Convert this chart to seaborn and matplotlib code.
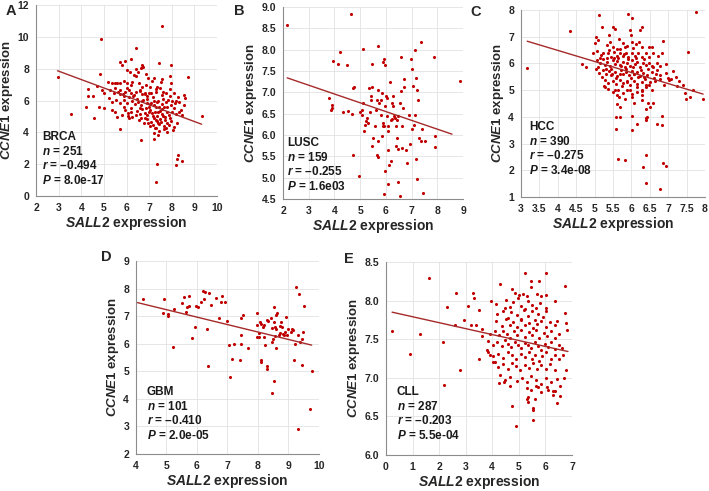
import matplotlib
matplotlib.use('Agg')
import matplotlib.pyplot as plt
import seaborn as sns

# ------------------------------------------------------------------------------
# data (SALL2 expression, CCNE1 expression)
# ------------------------------------------------------------------------------
brca = [(2.95, 7.49), (3.56, 5.17), (4.28, 6.7), (4.28, 6.28), (4.5, 6.28), (4.2, 5.6), (4.55, 4.87),
        (4.7, 6.9), (4.8, 5.6), (4.82, 7.65), (4.88, 9.85), (7.55, 10.65), (7.36, 2.03), (7.3, 0.88),
        (8.19, 1.95), (8.25, 2.3), (8.28, 2.55), (8.45, 2.2),
        (6.44, 9.29), (5.73, 8.45), (5.95, 8.51), (5.81, 8.24), (6.21, 8.59), (6.7, 8.24), (6.74, 8.13),
        (6.65, 8.03), (7.44, 8.38), (7.98, 8.2), (6.03, 7.92), (6.15, 7.76), (6.4, 7.96), (6.5, 7.82),
        (6.33, 7.61), (6.44, 7.55), (6.84, 7.65), (6.95, 7.4), (7.21, 7.4), (7.14, 7.25), (7.51, 7.19),
        (7.55, 7.34), (7.92, 7.55), (7.95, 7.08), (8.73, 7.5),
        (5.17, 7.19), (5.36, 7.09), (5.47, 7.13), (5.58, 7.09), (5.73, 7.13), (5.88, 7.25), (6.0, 7.09),
        (6.25, 7.19), (6.18, 6.98), (6.55, 7.13), (6.7, 6.87), (6.84, 6.98), (7.04, 6.83), (7.33, 6.87),
        (7.48, 6.77), (7.91, 6.73),
        (4.92, 6.67), (5.02, 6.5), (5.29, 6.67), (5.44, 6.5), (5.61, 6.56), (5.73, 6.67), (5.85, 6.41),
        (5.95, 6.56), (6.1, 6.67), (6.21, 6.46), (6.33, 6.35), (6.44, 6.56), (6.59, 6.67), (6.7, 6.39),
        (6.81, 6.5), (6.92, 6.29), (7.07, 6.46), (7.18, 6.25), (7.29, 6.56), (7.58, 6.35), (7.73, 6.46),
        (8.1, 6.46), (8.28, 6.2), (8.55, 6.35), (8.58, 6.14),
        (5.21, 6.14), (5.36, 5.93), (5.55, 6.04), (5.73, 5.87), (5.91, 6.04), (6.03, 5.83), (6.25, 5.99),
        (6.37, 5.78), (6.5, 5.93), (6.62, 5.72), (6.74, 6.04), (6.89, 5.83), (6.99, 5.62), (7.1, 5.87),
        (7.21, 5.72), (7.33, 5.93), (7.44, 5.62), (7.55, 5.78), (7.73, 5.93), (7.81, 5.62), (7.95, 5.72),
        (8.13, 5.83), (8.32, 5.93), (8.52, 5.72),
        (4.99, 5.51), (5.36, 5.41), (5.51, 5.3), (5.95, 5.41), (6.06, 5.2), (6.18, 5.51), (6.47, 5.37),
        (6.59, 5.16), (6.7, 5.45), (6.8, 5.24), (6.92, 5.09), (7.04, 5.41), (7.14, 5.2), (7.24, 5.3),
        (7.36, 5.03), (7.48, 5.37), (7.58, 5.16), (7.69, 4.99), (7.78, 5.3), (7.88, 5.09), (8.03, 5.3),
        (8.18, 5.16), (8.4, 5.41), (8.47, 5.09),
        (5.58, 4.99), (6.1, 4.88), (6.25, 4.95), (6.55, 4.78), (6.65, 4.88), (6.77, 4.61), (6.92, 4.82),
        (7.07, 4.67), (7.18, 4.46), (7.29, 4.78), (7.39, 4.57), (7.51, 4.67), (7.66, 4.4), (7.78, 4.61),
        (7.88, 4.46), (7.98, 4.71), (8.1, 4.32), (8.25, 4.57),
        (7.29, 4.25), (7.44, 4.11), (7.66, 4.19), (7.81, 4.04), (7.21, 3.94), (7.39, 3.83), (5.73, 4.19),
        (6.65, 3.52), (7.21, 3.56), (9.32, 5.03),
        (6.6, 5.5), (6.85, 5.55), (7.0, 5.3), (7.15, 5.05), (7.3, 5.6), (7.4, 5.25), (7.55, 5.45),
        (7.65, 5.6), (7.2, 4.9), (7.35, 4.7), (7.5, 4.85), (7.6, 5.0), (7.7, 4.8), (7.05, 5.8),
        (6.9, 6.1), (7.2, 6.0), (7.4, 5.95), (7.6, 6.1), (7.85, 6.05), (8.0, 5.95), (6.7, 5.95),
        (6.45, 6.1), (6.3, 6.3), (6.1, 6.2), (5.9, 6.3), (5.7, 6.4), (5.5, 6.8), (6.0, 6.8),
        (6.6, 6.6), (6.8, 6.4), (7.0, 6.5), (7.3, 6.7), (7.6, 6.55), (7.9, 6.3), (8.2, 6.0),
        (8.1, 5.5), (8.3, 5.3), (7.9, 4.9), (7.45, 4.5), (7.05, 4.4), (6.8, 4.9), (6.4, 5.1),
        (6.2, 5.3), (5.9, 5.6), (6.05, 5.05), (5.8, 5.1), (7.75, 4.25), (8.05, 4.15), (7.25, 4.3),
        (6.95, 4.6)]

lusc = [(2.16, 8.59), (4.64, 8.84), (4.21, 7.94), (3.95, 7.74), (4.15, 7.66), (4.47, 7.63), (5.12, 8.02),
        (5.47, 7.66), (5.93, 7.77), (5.9, 7.7), (5.96, 7.65), (5.71, 8.08), (6.59, 7.83), (6.97, 7.78),
        (7.14, 8.0), (7.36, 8.18), (7.88, 7.83), (8.9, 7.26),
        (3.79, 6.87), (3.89, 6.71), (3.92, 6.63), (3.85, 6.59), (4.34, 6.53), (4.54, 6.57), (4.69, 6.5),
        (4.73, 7.1), (4.77, 7.13), (4.73, 5.54), (4.95, 5.03), (4.99, 6.53), (5.06, 6.48), (5.1, 6.75),
        (5.08, 6.58), (5.19, 6.24), (5.21, 6.34), (5.16, 6.1), (5.28, 6.4), (5.32, 6.28), (5.35, 7.1),
        (5.38, 6.55), (5.41, 6.92), (5.44, 6.83), (5.47, 7.13), (5.51, 5.93), (5.45, 5.75), (5.58, 6.2),
        (5.6, 6.59), (5.64, 6.83), (5.64, 5.54), (5.71, 5.48), (5.68, 5.85), (5.71, 7.06), (5.75, 6.75),
        (5.8, 6.83), (5.81, 6.48), (5.84, 6.98), (5.84, 5.97), (5.87, 6.2), (5.9, 6.27), (5.93, 6.22),
        (5.97, 6.67), (6.0, 6.91), (6.03, 6.87), (5.97, 5.15), (5.93, 4.62), (6.03, 6.44), (6.07, 6.2),
        (6.1, 6.09), (6.1, 5.66), (6.14, 5.3), (6.19, 5.38), (6.1, 4.84), (6.16, 7.24), (6.23, 6.75),
        (6.27, 6.67), (6.2, 6.36), (6.25, 6.38), (6.29, 6.91), (6.33, 6.44), (6.36, 6.4), (6.38, 6.2),
        (6.42, 6.36), (6.38, 5.75), (6.46, 5.68), (6.45, 5.93), (6.49, 6.44), (6.46, 4.91), (6.53, 4.56),
        (6.55, 6.75), (6.58, 7.02), (6.62, 5.7), (6.64, 6.2), (6.68, 6.63), (6.71, 7.13), (6.72, 7.32),
        (6.77, 5.66), (6.81, 5.34), (6.9, 6.48), (6.94, 5.8), (7.0, 6.13), (7.0, 7.55), (7.07, 7.16),
        (7.14, 6.48), (7.1, 6.24), (7.18, 7.34), (7.2, 7.06), (7.24, 6.83), (7.18, 5.44), (7.22, 4.98),
        (7.29, 5.93), (7.36, 5.85), (7.4, 6.14), (7.46, 4.64), (7.53, 5.85), (7.89, 5.97), (7.92, 5.73)]

hcc = [(3.17, 5.81), (4.33, 7.22), (4.65, 5.98), (4.78, 5.88), (5.13, 7.81), (5.92, 7.85), (6.03, 7.69),
       (7.77, 7.94), (5.19, 7.38), (5.51, 7.35), (5.55, 7.28), (5.4, 7.06), (5.67, 6.9), (5.96, 7.25),
       (5.98, 7.06), (6.28, 7.38), (6.23, 7.25), (5.04, 7.0), (5.1, 6.88), (5.01, 6.78), (5.33, 6.69),
       (5.42, 6.81), (5.51, 6.63), (5.78, 6.75), (5.87, 6.65), (5.69, 6.53), (6.01, 6.81), (6.13, 6.73),
       (6.22, 6.81), (6.49, 6.63), (6.87, 6.85),
       (4.97, 6.4), (5.07, 6.48), (5.17, 6.31), (5.24, 6.4), (5.37, 6.38), (5.44, 6.25), (5.53, 6.44),
       (5.6, 6.28), (5.69, 6.38), (5.78, 6.28), (5.85, 6.4), (5.92, 6.25), (6.01, 6.38), (6.1, 6.28),
       (6.19, 6.4), (6.28, 6.25), (6.4, 6.4), (6.49, 6.25), (6.6, 6.38), (6.73, 6.28), (6.82, 6.38),
       (5.06, 6.13), (5.15, 6.0), (5.22, 6.15), (5.28, 5.94), (5.35, 6.06), (5.42, 5.9), (5.49, 6.13),
       (5.55, 5.98), (5.62, 6.1), (5.69, 5.94), (5.76, 6.06), (5.83, 5.88), (5.89, 6.03), (5.96, 5.9),
       (6.03, 6.13), (6.1, 5.98), (6.16, 6.06), (6.23, 5.88), (6.31, 6.03), (6.4, 5.94), (6.49, 6.03),
       (6.58, 5.88), (6.69, 6.0), (6.78, 5.9), (6.94, 5.98),
       (5.04, 5.78), (5.13, 5.65), (5.22, 5.75), (5.31, 5.6), (5.4, 5.73), (5.46, 5.56), (5.55, 5.69),
       (5.62, 5.53), (5.71, 5.75), (5.78, 5.6), (5.85, 5.69), (5.94, 5.56), (6.01, 5.73), (6.07, 5.6),
       (6.16, 5.69), (6.23, 5.53), (6.32, 5.65), (6.43, 5.56), (6.55, 5.69), (6.67, 5.6), (6.78, 5.56),
       (6.94, 5.65),
       (5.28, 5.38), (5.37, 5.28), (5.49, 5.35), (5.58, 5.23), (5.69, 5.38), (5.78, 5.25), (5.87, 5.35),
       (5.96, 5.19), (6.07, 5.35), (6.16, 5.23), (6.28, 5.31), (6.4, 5.19), (6.5, 5.31), (6.64, 5.35),
       (6.78, 5.4),
       (5.37, 5.03), (5.51, 4.94), (5.64, 5.0), (5.76, 4.88), (5.87, 5.0), (6.01, 4.85), (6.14, 4.94),
       (6.28, 4.81), (5.28, 5.1), (5.67, 4.73), (6.01, 4.73), (6.28, 4.63), (6.41, 5.13), (6.55, 5.0),
       (5.6, 4.48), (5.69, 4.38), (6.46, 4.53), (6.5, 4.38), (6.41, 4.31), (6.01, 4.03), (6.4, 3.94),
       (6.43, 4.0), (5.69, 4.0),
       (6.55, 6.63), (7.03, 5.38), (7.09, 5.41), (7.23, 5.15), (7.41, 5.21), (7.46, 4.9), (7.48, 4.65),
       (7.59, 4.75), (7.67, 5.0), (7.55, 6.44), (7.95, 4.65),
       (5.58, 3.98), (5.57, 3.54), (5.64, 2.44), (5.84, 2.4), (6.03, 3.5), (6.14, 3.75), (6.39, 3.88),
       (6.41, 2.56), (6.32, 2.13), (6.39, 1.53), (6.69, 3.75), (6.82, 4.03), (6.82, 3.69), (6.78, 1.31),
       (6.85, 2.28), (6.94, 2.16), (6.58, 4.5),
       (5.45, 5.8), (5.52, 6.2), (5.58, 5.45), (5.65, 6.22), (5.72, 5.9), (5.8, 6.35), (5.86, 5.8),
       (5.92, 6.15), (5.98, 5.45), (6.05, 5.85), (6.12, 6.2), (6.18, 5.5), (6.25, 5.75), (6.33, 6.15),
       (6.38, 5.4), (6.45, 5.8), (5.3, 5.8), (5.35, 6.2), (5.2, 5.5), (5.1, 5.85), (5.55, 5.0),
       (5.75, 5.15), (5.95, 5.0), (6.15, 5.1), (6.35, 5.5), (6.55, 5.9), (6.62, 5.45), (6.7, 5.75),
       (6.88, 5.2), (7.0, 5.45), (7.12, 5.7), (7.2, 5.5), (7.3, 5.35), (5.6, 6.55), (5.82, 6.6),
       (6.05, 6.58), (6.3, 6.6), (5.4, 6.5), (5.25, 5.15), (5.15, 6.2), (5.48, 5.62), (5.68, 5.62),
       (5.88, 5.3), (6.08, 5.62), (6.28, 5.0), (6.48, 5.2), (5.62, 4.8), (5.82, 4.65), (6.08, 4.5),
       (6.3, 4.95)]

gbm = [(4.22, 7.61), (4.91, 7.61), (4.88, 7.1), (5.04, 7.02), (5.06, 7.07), (5.24, 7.26), (5.23, 5.89),
       (5.51, 7.46), (5.57, 7.71), (5.64, 7.14), (5.68, 7.34), (5.75, 7.37), (5.75, 7.74), (5.84, 6.22),
       (5.94, 6.62), (5.97, 7.37), (6.03, 7.33), (6.14, 7.52), (6.19, 7.91), (6.25, 7.89), (6.23, 7.62),
       (6.41, 7.85), (6.45, 7.4), (6.33, 6.52), (6.36, 5.2), (6.63, 7.67), (6.71, 6.94), (6.8, 7.5),
       (6.82, 7.73), (6.93, 7.52), (7.0, 6.82), (7.05, 5.95), (7.07, 4.78), (7.2, 6.0), (7.16, 5.43),
       (7.4, 5.4), (7.44, 6.0), (7.44, 6.32), (7.45, 6.94), (7.51, 7.04), (7.67, 5.83), (7.98, 7.13),
       (7.98, 6.24), (8.04, 6.24), (8.06, 6.78), (8.11, 6.72), (8.09, 5.4), (8.11, 5.32), (8.17, 6.6),
       (8.2, 6.68), (8.19, 6.24), (8.28, 5.2), (8.28, 5.1), (8.24, 5.95), (8.28, 6.86), (8.33, 6.82),
       (8.42, 6.94), (8.45, 6.56), (8.5, 6.17), (8.46, 6.07), (8.45, 4.22), (8.52, 7.32), (8.52, 6.8),
       (8.55, 6.62), (8.58, 6.53), (8.57, 6.28), (8.54, 4.66), (8.6, 7.04), (8.63, 7.1), (8.6, 5.86),
       (8.69, 6.32), (8.73, 6.4), (8.77, 6.78), (8.82, 6.34), (8.86, 6.3), (8.9, 6.44), (8.96, 6.32),
       (8.93, 6.98), (9.0, 6.53), (9.07, 6.44), (9.1, 6.53), (9.15, 6.5), (9.18, 5.41), (9.23, 6.0),
       (9.26, 8.07), (9.32, 6.32), (9.34, 7.82), (9.37, 6.07), (9.45, 6.17), (9.45, 5.23), (9.32, 2.9),
       (9.52, 7.37), (9.48, 6.42), (9.7, 3.63), (9.76, 5.01), (8.72, 6.65), (8.79, 6.6), (7.97, 6.68),
       (8.04, 6.38)]

cll = [(0.23, 7.61), (0.92, 7.31), (1.27, 7.57), (1.63, 8.29), (2.13, 7.47), (2.17, 6.91), (2.28, 7.92),
       (2.61, 7.69), (2.65, 8.1), (2.8, 7.1), (2.95, 7.75), (3.09, 7.93), (3.2, 7.68), (3.26, 8.1),
       (3.32, 8.03), (3.4, 7.69), (3.49, 7.88), (3.49, 7.25), (3.61, 7.54), (3.8, 7.36), (3.93, 7.29),
       (4.12, 7.21), (4.24, 6.93), (4.43, 6.95),
       (4.28, 8.22), (5.45, 8.25), (5.44, 8.17), (5.75, 8.25), (6.73, 8.19), (5.24, 8.36), (6.04, 8.36),
       (4.76, 8.15), (4.85, 8.1), (5.01, 8.07), (5.16, 8.09), (5.29, 8.06), (5.69, 8.09), (5.85, 8.06),
       (6.01, 8.07),
       (3.97, 7.99), (4.16, 7.95), (4.47, 7.9), (4.53, 8.01), (4.66, 7.92), (4.78, 7.98), (4.97, 8.03),
       (5.1, 7.93), (5.22, 7.89), (5.35, 8.0), (5.51, 7.94), (5.66, 7.9), (5.79, 7.97), (6.04, 7.91),
       (6.35, 8.0), (6.73, 7.84),
       (4.18, 7.83), (4.4, 7.87), (4.58, 7.78), (4.71, 7.85), (4.94, 7.81), (5.09, 7.76), (5.21, 7.88),
       (5.34, 7.8), (5.49, 7.86), (5.61, 7.75), (5.74, 7.83), (5.9, 7.79), (6.02, 7.86),
       (4.16, 7.73), (4.35, 7.67), (4.51, 7.76), (4.66, 7.69), (4.78, 7.72), (4.94, 7.66), (5.1, 7.75),
       (5.22, 7.69), (5.39, 7.71), (5.54, 7.64), (5.69, 7.7), (5.85, 7.74), (6.01, 7.66), (6.19, 7.72),
       (6.35, 7.69), (6.44, 7.74), (6.79, 7.71), (6.83, 7.62),
       (3.62, 7.63), (3.93, 7.57), (4.09, 7.6), (4.24, 7.55), (4.39, 7.61), (4.56, 7.57), (4.68, 7.52),
       (4.81, 7.6), (4.93, 7.55), (5.1, 7.62), (5.22, 7.53), (5.37, 7.59), (5.5, 7.56), (5.65, 7.62),
       (5.77, 7.51), (5.93, 7.58), (6.06, 7.54), (6.22, 7.6), (6.37, 7.52), (6.5, 7.57),
       (3.85, 7.48), (4.03, 7.43), (4.18, 7.46), (4.35, 7.41), (4.47, 7.49), (4.6, 7.44), (4.72, 7.4),
       (4.85, 7.47), (4.97, 7.42), (5.1, 7.38), (5.22, 7.45), (5.35, 7.43), (5.47, 7.39), (5.6, 7.47),
       (5.72, 7.41), (5.85, 7.36), (5.97, 7.44), (6.1, 7.4), (6.23, 7.46), (6.35, 7.37), (6.51, 7.42),
       (6.64, 7.39),
       (3.84, 7.33), (4.03, 7.28), (4.22, 7.31), (4.41, 7.26), (4.59, 7.33), (4.75, 7.3), (4.91, 7.24),
       (5.07, 7.31), (5.22, 7.27), (5.37, 7.34), (5.5, 7.25), (5.62, 7.3), (5.75, 7.22), (5.87, 7.28),
       (6.03, 7.33), (6.2, 7.25), (6.35, 7.3), (6.5, 7.24), (6.66, 7.29),
       (4.03, 7.2), (4.22, 7.14), (4.41, 7.18), (4.6, 7.12), (4.76, 7.19), (4.91, 7.15), (5.06, 7.1),
       (5.22, 7.17), (5.39, 7.13), (5.54, 7.19), (5.69, 7.11), (5.85, 7.16), (6.01, 7.12), (6.16, 7.18),
       (6.35, 7.1), (6.76, 7.1),
       (4.3, 7.03), (4.48, 6.97), (4.67, 7.01), (4.92, 6.96), (5.11, 7.0), (5.3, 6.95), (5.46, 7.02),
       (5.64, 6.97), (5.84, 6.92), (6.01, 7.0), (6.21, 6.94), (6.43, 6.99), (6.71, 7.0),
       (4.66, 6.9), (5.29, 6.87), (5.47, 6.84), (5.66, 6.9), (5.85, 6.81), (6.06, 6.88), (6.29, 6.83),
       (6.54, 6.9), (5.35, 6.75), (5.6, 6.72), (6.54, 6.77),
       (4.74, 6.64), (4.9, 6.37), (5.53, 6.61), (5.53, 6.58), (5.53, 6.45), (5.31, 6.73), (5.34, 6.69),
       (6.44, 6.67), (6.27, 6.78), (6.37, 6.83), (6.09, 6.84), (5.72, 6.88)]

# 회귀선: [기울기, 절편, 시작 x, 끝 x]
fit_brca = [-0.5275, 9.426, 2.95, 9.32]
fit_lusc = [-0.206, 7.785, 2.16, 8.57]
fit_hcc = [-0.414, 8.143, 3.17, 7.95]
fit_gbm = [-0.27, 8.583, 4.05, 9.76]
fit_cll = [-0.077, 7.868, 0.23, 6.85]

# 통계 문구
names = ['BRCA', 'LUSC', 'HCC', 'GBM', 'CLL']
n_vals = ['251', '159', '390', '101', '287']
r_vals = ['–0.494', '–0.255', '–0.275', '–0.410', '–0.203']
p_vals = ['8.0e-17', '1.6e03', '3.4e-08', '2.0e-05', '5.5e-04']
letters = ['A', 'B', 'C', 'D', 'E']

# 축 눈금
x_ticks = [[2, 3, 4, 5, 6, 7, 8, 9, 10],
           [2, 3, 4, 5, 6, 7, 8, 9],
           [3, 3.5, 4, 4.5, 5, 5.5, 6, 6.5, 7, 7.5, 8],
           [4, 5, 6, 7, 8, 9, 10],
           [0, 1, 2, 3, 4, 5, 6, 7]]
y_ticks = [[0, 2, 4, 6, 8, 10, 12],
           [4.5, 5.0, 5.5, 6.0, 6.5, 7.0, 7.5, 8.0, 8.5, 9.0],
           [1, 2, 3, 4, 5, 6, 7, 8],
           [2, 3, 4, 5, 6, 7, 8, 9],
           [6.0, 6.5, 7.0, 7.5, 8.0, 8.5]]
y_fmt = ['{:g}', '{:.1f}', '{:g}', '{:g}', '{:.1f}']

# ------------------------------------------------------------------------------
# 스타일
# ------------------------------------------------------------------------------
sns.set_style('white')
plt.rcParams['font.family'] = ['Liberation Sans', 'DejaVu Sans']
plt.rcParams['font.weight'] = 'bold'
plt.rcParams['mathtext.fontset'] = 'custom'
plt.rcParams['mathtext.it'] = 'Liberation Sans:italic:bold'
plt.rcParams['mathtext.rm'] = 'Liberation Sans:bold'
plt.rcParams['mathtext.bf'] = 'Liberation Sans:bold'

fig = plt.figure(figsize=(7.09, 4.91), dpi=100)

# 패널 위치 (figure 비율)
boxes = [[0.0508, 0.6008, 0.2553, 0.389],
         [0.3992, 0.5947, 0.2539, 0.391],
         [0.7348, 0.5988, 0.2595, 0.3809],
         [0.1918, 0.0754, 0.2581, 0.3931],
         [0.5444, 0.0733, 0.2623, 0.3931]]
text_pos = [(0.033, 0.047), (0.022, 0.031), (0.043, 0.107), (0.06, 0.062), (0.059, 0.067)]
letter_pos = [(0.016, 0.978), (0.338, 0.978), (0.671, 0.975), (0.150, 0.477), (0.492, 0.473)]

datasets = [brca, lusc, hcc, gbm, cll]
fits = [fit_brca, fit_lusc, fit_hcc, fit_gbm, fit_cll]

for i in range(5):
    ax = fig.add_axes(boxes[i])
    xs = [p[0] for p in datasets[i]]
    ys = [p[1] for p in datasets[i]]

    # 산점도
    sns.scatterplot(x=xs, y=ys, ax=ax, s=5, color='#C00000', linewidth=0, zorder=3)

    # 회귀선
    slope, icpt, x0, x1 = fits[i]
    sns.lineplot(x=[x0, x1], y=[slope * x0 + icpt, slope * x1 + icpt], ax=ax,
                 color='#A52A2A', linewidth=1.0, zorder=4)

    ax.set_xlim(x_ticks[i][0], x_ticks[i][-1])
    ax.set_ylim(y_ticks[i][0], y_ticks[i][-1])
    ax.set_xticks(x_ticks[i])
    ax.set_xticklabels(['{:g}'.format(t) for t in x_ticks[i]])
    ax.set_yticks(y_ticks[i])
    ax.set_yticklabels([y_fmt[i].format(t) for t in y_ticks[i]])

    ax.grid(True, color='#e2e2e2', linewidth=0.6)
    ax.set_axisbelow(True)
    for side in ['top', 'right']:
        ax.spines[side].set_visible(False)
    for side in ['left', 'bottom']:
        ax.spines[side].set_color('#8c8c8c')
        ax.spines[side].set_linewidth(0.8)
    ax.tick_params(direction='out', length=3, width=0.6, color='#8c8c8c',
                   labelsize=7.5, labelcolor='#262626', pad=2)

    ax.set_xlabel(r'$\mathit{SALL2}$ expression', fontsize=10, fontweight='bold', labelpad=1)
    ax.set_ylabel(r'$\mathit{CCNE1}$ expression', fontsize=9.5, fontweight='bold', labelpad=1.5)

    # 통계 문구
    lines = [names[i], r'$\mathit{n}$ = ' + n_vals[i], r'$\mathit{r}$ = ' + r_vals[i],
             r'$\mathit{P}$ = ' + p_vals[i]]
    for k, line in enumerate(lines):
        ax.annotate(line, xy=text_pos[i], xycoords='axes fraction',
                    xytext=(0, (3 - k) * 10.5), textcoords='offset points',
                    fontsize=8.5, fontweight='bold', color='#1a1a1a', va='bottom', ha='left')

    fig.text(letter_pos[i][0], letter_pos[i][1], letters[i], fontsize=10.5,
             fontweight='bold', ha='center', va='center')

fig.savefig('out.png', dpi=100)
